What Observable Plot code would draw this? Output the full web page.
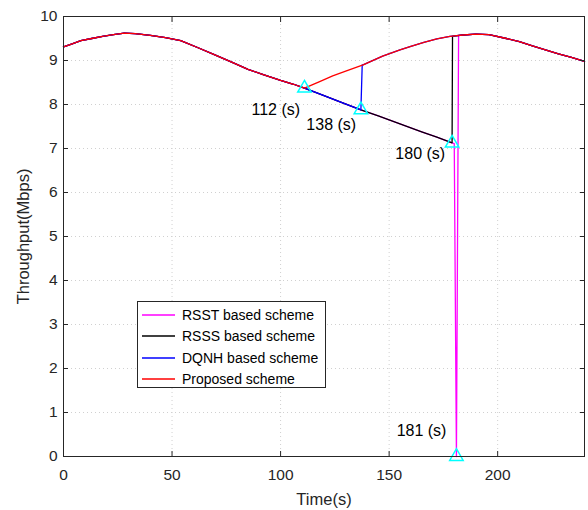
<!DOCTYPE html>
<html>
<head>
<meta charset="utf-8">
<script src="https://cdn.jsdelivr.net/npm/d3@7"></script>
<script src="https://cdn.jsdelivr.net/npm/@observablehq/plot@0.6"></script>
<style>
  html, body { margin: 0; padding: 0; background: #fff; }
  #wrap { position: relative; width: 588px; height: 510px; font-family: "Liberation Sans", Arial, sans-serif; }
  #legend { position: absolute; left: 137px; top: 301px; width: 189px; height: 87px; background: #fff; border: 1px solid #262626; box-sizing: border-box; }
  .row { position: absolute; left: 0; height: 20px; display: flex; align-items: center; font-size: 14px; color: #000; }
  .row svg { margin-left: 4px; margin-right: 7px; display: block; }
</style>
</head>
<body>
<div id="wrap"></div>
<script>
// ---- data ----
const xTicks = [0, 50, 100, 150, 200];
const yTicks = [0, 1, 2, 3, 4, 5, 6, 7, 8, 9, 10];

// common part (0 .. 111 s)
const baseT = [0, 4, 8, 13, 18, 23, 28, 33, 40, 47, 54, 62, 70, 78, 85, 92, 100, 106, 111];
const baseV = [9.31, 9.38, 9.45, 9.50, 9.55, 9.59, 9.62, 9.61, 9.57, 9.52, 9.45, 9.29, 9.12, 8.95, 8.80, 8.68, 8.55, 8.46, 8.37];

// no-handover decline after 111 s
const declineT = [120, 128, 137, 145, 155, 165, 172, 179];
const declineV = [8.20, 8.05, 7.88, 7.74, 7.56, 7.38, 7.26, 7.13];

// proposed scheme after 111 s
const riseT = [118, 124, 130, 138, 147, 155, 160, 166, 172, 178, 184, 190, 196, 204, 210, 216, 222, 228, 234, 240];
const riseV = [8.52, 8.65, 8.76, 8.90, 9.10, 9.24, 9.32, 9.41, 9.49, 9.55, 9.58, 9.60, 9.59, 9.50, 9.43, 9.33, 9.24, 9.15, 9.07, 8.98];

// handover jumps
const dqnhJumpT = [137.6];
const dqnhJumpV = [8.90];
const rsssJumpT = [179.2];
const rsssJumpV = [9.55];
const rsstJumpT = [180, 181, 182];
const rsstJumpV = [7.11, 0, 9.57];

const seriesNames = ["RSST based scheme", "RSSS based scheme", "DQNH based scheme", "Proposed scheme"];
const seriesColors = ["#ff00ff", "#000000", "#0000ff", "#ff0000"];

const markerT = [111, 137, 179, 181];
const markerV = [8.37, 7.88, 7.12, 0];
const labelText = ["112 (s)", "138 (s)", "180 (s)", "181 (s)"];
const labelT = [109.0, 134.8, 175.8, 176.4];
const labelV = [7.88, 7.54, 6.88, 0.59];

// ---- build series ----
function pts(T, V) { return T.map((t, i) => ({t, v: V[i]})); }
const base = pts(baseT, baseV);
const decl = pts(declineT, declineV);
const rise = pts(riseT, riseV);
const proposed = [...base, ...rise];
const dqnh = [...base, ...decl.filter(d => d.t <= 137), ...pts(dqnhJumpT, dqnhJumpV), ...rise.filter(d => d.t >= 138)];
const rsss = [...base, ...decl, ...pts(rsssJumpT, rsssJumpV), ...rise.filter(d => d.t >= 184)];
const rsst = [...base, ...decl, ...pts(rsstJumpT, rsstJumpV), ...rise.filter(d => d.t >= 184)];
const allSeries = [rsst, rsss, dqnh, proposed];

const markers = pts(markerT, markerV);
const labels = labelText.map((s, i) => ({s, t: labelT[i], v: labelV[i]}));

const ink = "#262626";
const chart = Plot.plot({
  width: 588,
  height: 510,
  marginLeft: 63,
  marginRight: 4,
  marginTop: 16,
  marginBottom: 54,
  style: {fontFamily: '"Liberation Sans", Arial, sans-serif', fontSize: "15px", color: ink, background: "#fff"},
  x: {domain: [0, 240]},
  y: {domain: [0, 10]},
  marks: [
    Plot.gridX(xTicks, {stroke: "#d0d0d0", strokeOpacity: 1, strokeDasharray: "1,3"}),
    Plot.gridY(yTicks, {stroke: "#d0d0d0", strokeOpacity: 1, strokeDasharray: "1,3"}),
    ...allSeries.map((s, i) => Plot.line(s, {x: "t", y: "v", stroke: seriesColors[i], strokeWidth: 1.3})),
    Plot.dot(markers, {x: "t", y: "v", symbol: "triangle", r: 5, stroke: "#00ffff", strokeWidth: 1.5, fill: "none"}),
    Plot.text(labels, {x: "t", y: "v", text: "s", textAnchor: "end", fontSize: 16, fill: "#000"}),
    Plot.axisX(xTicks, {anchor: "bottom", tickSize: 0, tickPadding: 12, fontSize: 15.5, label: "Time(s)", labelAnchor: "center", labelOffset: 48, labelArrow: "none"}),
    Plot.axisX(xTicks, {anchor: "bottom", tickSize: -5, tickFormat: () => "", label: null, stroke: ink}),
    Plot.axisX(xTicks, {anchor: "top", tickSize: -5, tickFormat: () => "", label: null, stroke: ink}),
    Plot.axisY(yTicks, {anchor: "left", tickSize: 0, tickPadding: 6, fontSize: 15.5, label: "Throughput(Mbps)", labelAnchor: "center", labelOffset: 46, labelArrow: "none"}),
    Plot.axisY(yTicks, {anchor: "left", tickSize: -5, tickFormat: () => "", label: null, stroke: ink}),
    Plot.axisY(yTicks, {anchor: "right", tickSize: -5, tickFormat: () => "", label: null, stroke: ink}),
    Plot.frame({stroke: ink, strokeWidth: 1})
  ]
});
chart.querySelectorAll("g[aria-label='x-axis label'] text, g[aria-label='y-axis label'] text").forEach(t => t.setAttribute("font-size", "16.5"));

const wrap = document.getElementById("wrap");
wrap.appendChild(chart);

// legend
const legend = document.createElement("div");
legend.id = "legend";
const rowTops = [3, 24, 46, 67];
const NS = "http://www.w3.org/2000/svg";
seriesNames.forEach((name, i) => {
  const row = document.createElement("div");
  row.className = "row";
  row.style.top = rowTops[i] + "px";
  const sw = document.createElementNS(NS, "svg");
  sw.setAttribute("width", "33");
  sw.setAttribute("height", "4");
  const ln = document.createElementNS(NS, "line");
  ln.setAttribute("x1", "0"); ln.setAttribute("x2", "33");
  ln.setAttribute("y1", "2"); ln.setAttribute("y2", "2");
  ln.setAttribute("stroke", seriesColors[i]);
  ln.setAttribute("stroke-width", "1.3");
  sw.appendChild(ln);
  const tx = document.createElement("span");
  tx.textContent = name;
  row.appendChild(sw);
  row.appendChild(tx);
  legend.appendChild(row);
});
wrap.appendChild(legend);
</script>
</body>
</html>
